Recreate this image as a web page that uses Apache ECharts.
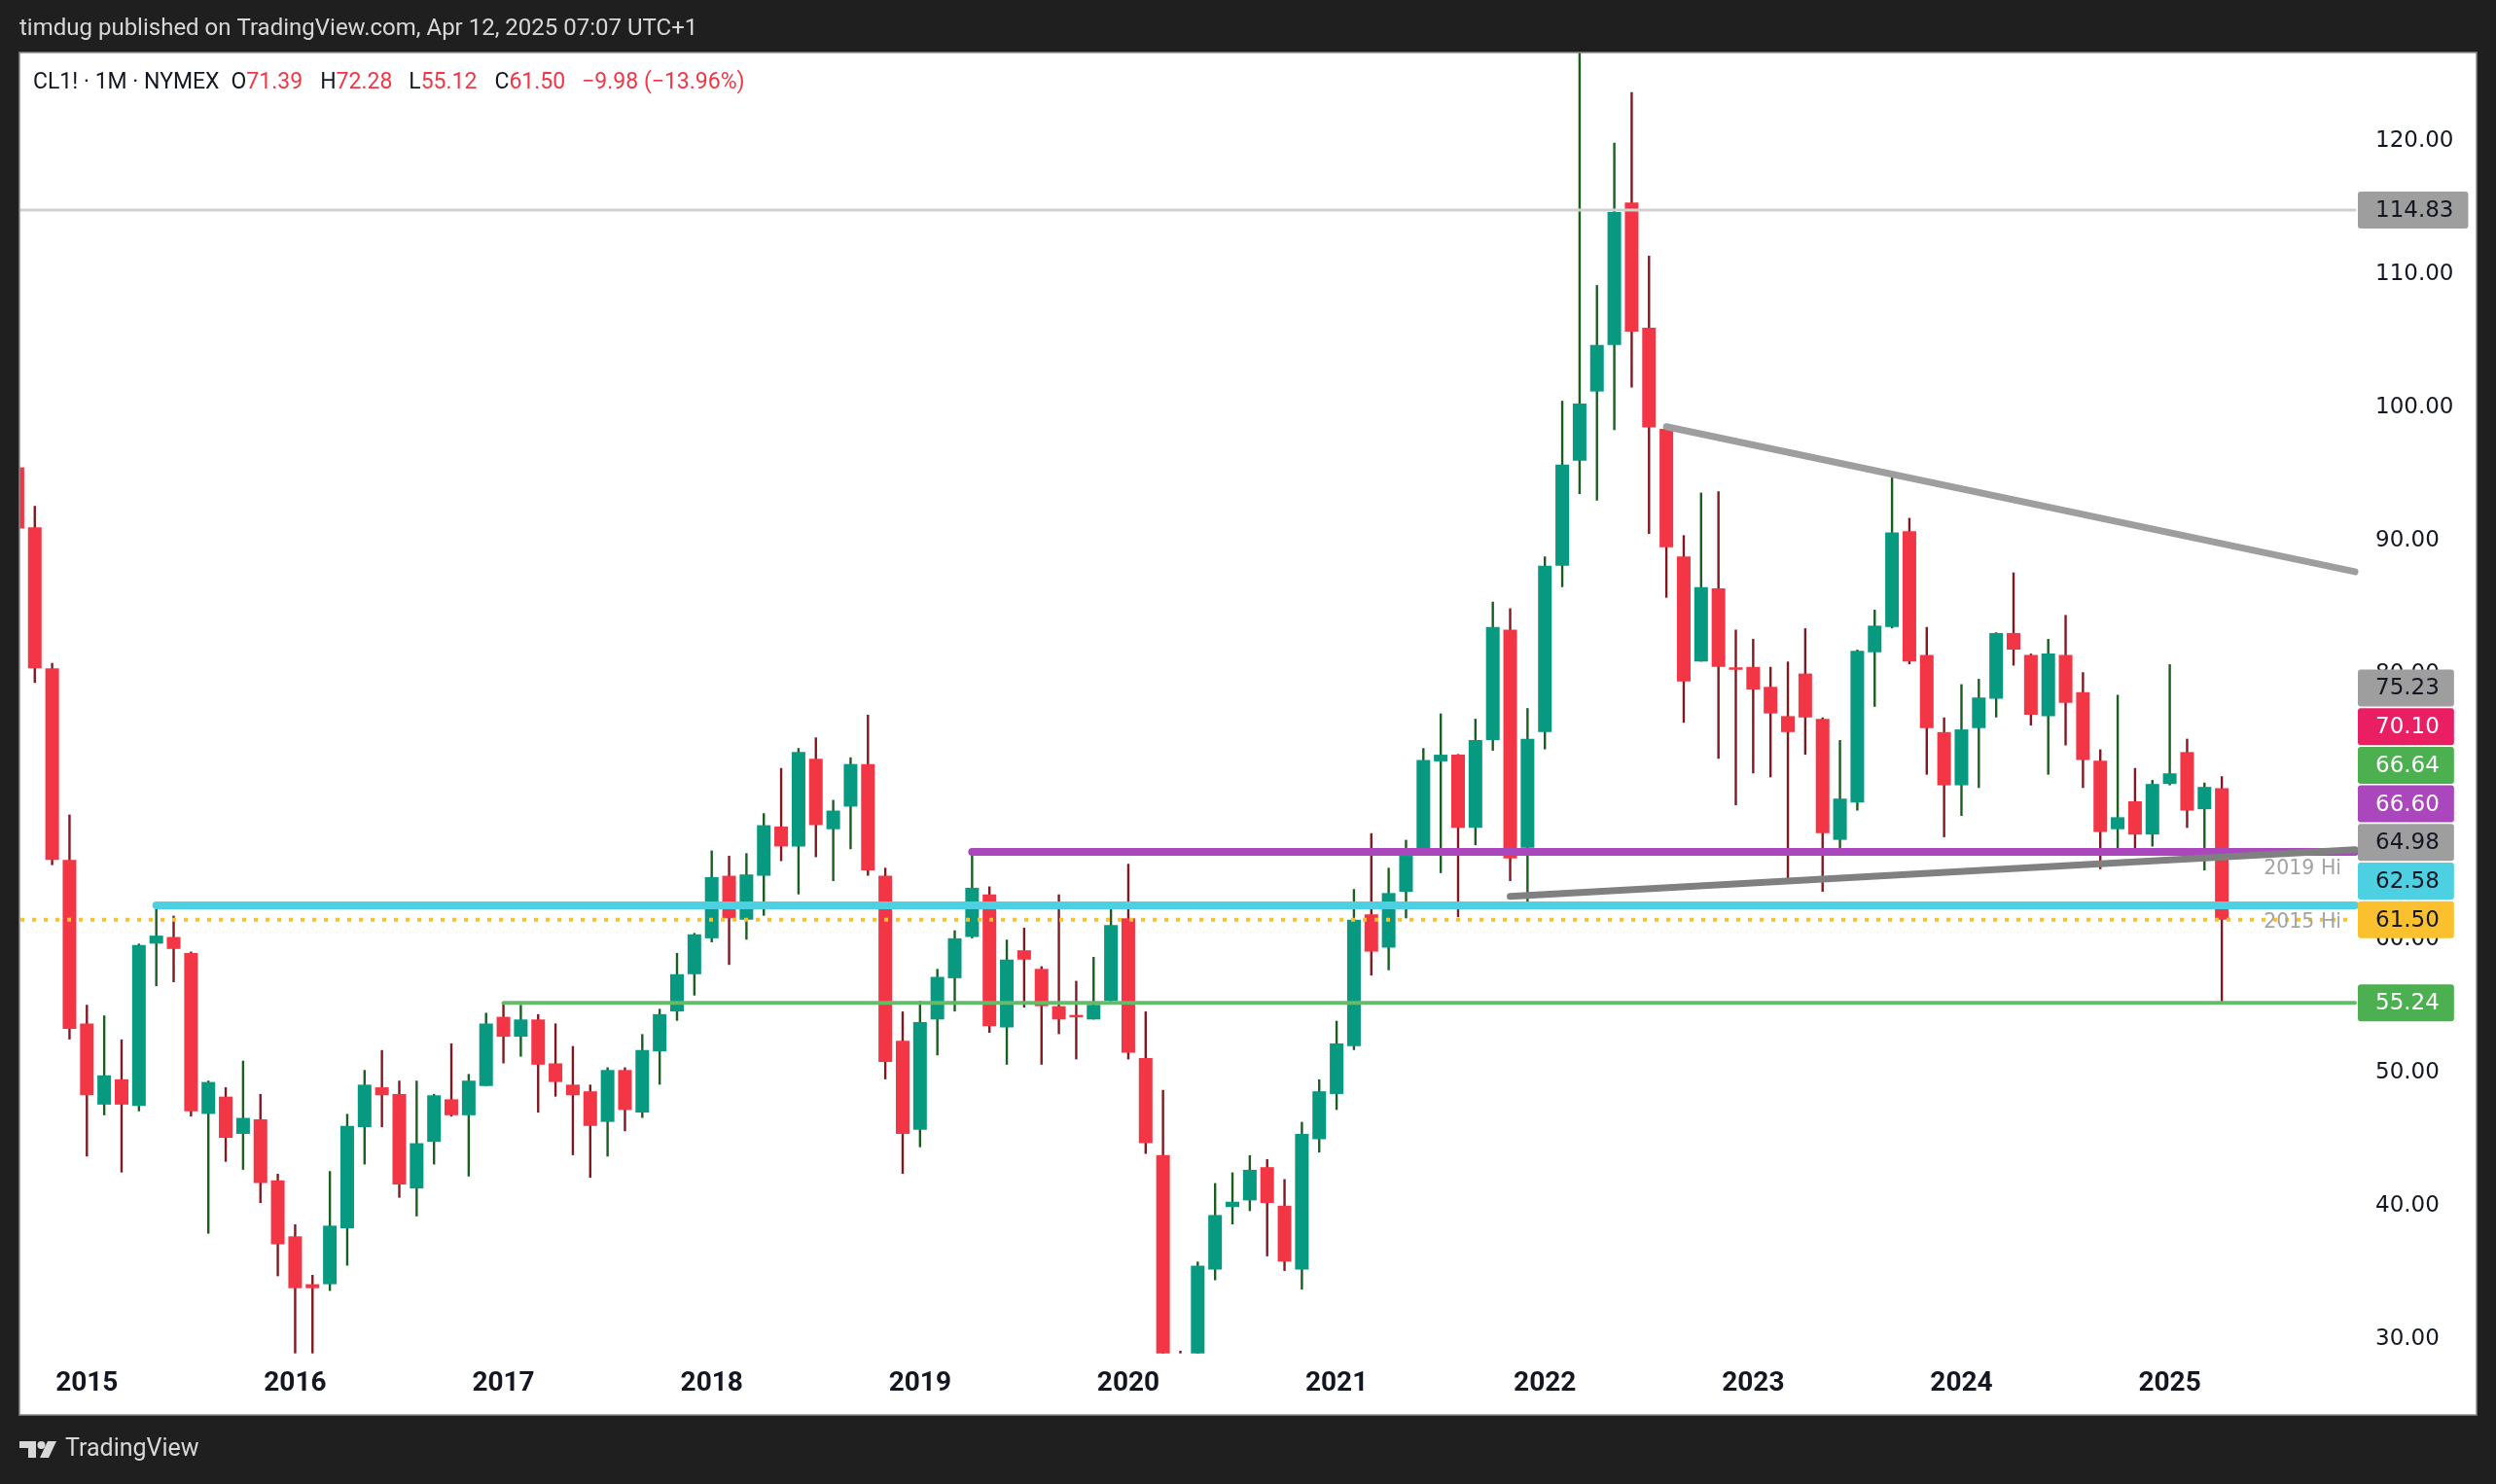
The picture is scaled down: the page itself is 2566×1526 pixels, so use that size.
<!DOCTYPE html>
<html>
<head>
<meta charset="utf-8">
<script src="https://cdn.jsdelivr.net/npm/echarts@6/dist/echarts.min.js"></script>
<style>
html,body{margin:0;padding:0;background:#1f1f1f;}
#c{width:2566px;height:1526px;}
</style>
</head>
<body>
<div id="c"></div>
<script>
// ---------------- DATA ----------------
const months = [
'2014-09','2014-10','2014-11','2014-12',
'2015-01','2015-02','2015-03','2015-04','2015-05','2015-06','2015-07','2015-08','2015-09','2015-10','2015-11','2015-12',
'2016-01','2016-02','2016-03','2016-04','2016-05','2016-06','2016-07','2016-08','2016-09','2016-10','2016-11','2016-12',
'2017-01','2017-02','2017-03','2017-04','2017-05','2017-06','2017-07','2017-08','2017-09','2017-10','2017-11','2017-12',
'2018-01','2018-02','2018-03','2018-04','2018-05','2018-06','2018-07','2018-08','2018-09','2018-10','2018-11','2018-12',
'2019-01','2019-02','2019-03','2019-04','2019-05','2019-06','2019-07','2019-08','2019-09','2019-10','2019-11','2019-12',
'2020-01','2020-02','2020-03','2020-04','2020-05','2020-06','2020-07','2020-08','2020-09','2020-10','2020-11','2020-12',
'2021-01','2021-02','2021-03','2021-04','2021-05','2021-06','2021-07','2021-08','2021-09','2021-10','2021-11','2021-12',
'2022-01','2022-02','2022-03','2022-04','2022-05','2022-06','2022-07','2022-08','2022-09','2022-10','2022-11','2022-12',
'2023-01','2023-02','2023-03','2023-04','2023-05','2023-06','2023-07','2023-08','2023-09','2023-10','2023-11','2023-12',
'2024-01','2024-02','2024-03','2024-04','2024-05','2024-06','2024-07','2024-08','2024-09','2024-10','2024-11','2024-12',
'2025-01','2025-02','2025-03','2025-04'
];
const opens = [
95.5, 91.0, 80.4, 66.0,
53.7, 47.6, 49.5, 47.5, 59.7, 60.2, 59.0, 46.9, 48.2, 45.4, 46.5, 41.9,
37.7, 34.1, 34.1, 38.3, 45.9, 48.9, 48.4, 41.3, 44.8, 48.0, 46.8, 49.0,
54.2, 52.7, 54.0, 50.7, 49.1, 48.6, 46.3, 50.2, 47.0, 51.6, 54.6, 57.4,
60.1, 64.8, 61.5, 64.8, 68.5, 67.0, 73.6, 68.3, 70.0, 73.2, 64.8, 52.4,
45.7, 54.0, 57.1, 60.2, 63.4, 53.4, 59.2, 57.8, 55.0, 54.3, 54.0, 55.4,
61.6, 51.1, 43.8, 20.3, 18.8, 35.2, 39.9, 40.4, 42.9, 40.0, 35.2, 45.0,
48.4, 52.0, 61.9, 59.4, 63.6, 66.6, 73.4, 73.9, 68.4, 75.0, 83.3, 66.9,
75.6, 88.1, 96.0, 101.2, 104.7, 115.4, 106.0, 98.4, 88.8, 80.9, 86.4, 80.45,
80.5, 79.0, 76.8, 80.0, 76.6, 67.5, 70.3, 81.6, 83.5, 90.7, 81.4, 75.6,
71.6, 75.9, 78.1, 83.05, 81.4, 76.8, 81.4, 78.6, 73.45, 68.3, 70.4, 67.9,
71.7, 74.1, 69.8, 71.39
];
const highs = [
95.9, 92.6, 80.8, 69.4,
55.1, 54.3, 52.5, 59.7, 62.58, 61.8, 59.1, 49.4, 48.9, 50.9, 48.4, 42.4,
38.6, 34.8, 42.6, 46.9, 50.2, 51.7, 49.4, 49.4, 48.4, 52.2, 49.9, 54.5,
55.24, 55.1, 54.4, 53.7, 52.0, 49.1, 50.4, 50.4, 52.9, 54.8, 59.0, 60.5,
66.7, 66.3, 66.5, 69.5, 72.9, 74.4, 75.2, 70.5, 73.7, 76.9, 65.4, 54.6,
55.4, 57.8, 60.7, 66.6, 64.0, 60.0, 60.9, 58.0, 63.4, 56.9, 58.7, 62.3,
65.7, 54.6, 48.7, 29.1, 35.8, 41.7, 42.5, 43.8, 43.5, 42.0, 46.3, 49.5,
53.9, 63.8, 68.0, 65.4, 67.5, 74.4, 77.0, 73.95, 76.6, 85.4, 84.9, 77.4,
88.8, 100.5, 130.5, 109.2, 119.9, 123.7, 111.4, 98.7, 90.4, 93.6, 93.7, 83.3,
82.6, 80.5, 80.9, 83.4, 76.7, 75.0, 81.8, 84.8, 94.9, 91.7, 83.5, 76.7,
79.2, 79.6, 83.1, 87.6, 81.5, 82.6, 84.4, 80.1, 74.3, 78.4, 72.9, 72.0,
80.7, 75.1, 71.8, 72.28
];
const lows = [
90.4, 79.3, 65.6, 52.5,
43.7, 46.8, 42.5, 47.1, 56.5, 56.8, 46.7, 37.9, 43.3, 42.7, 40.2, 34.7,
26.2, 26.1, 33.6, 35.5, 43.1, 45.9, 40.6, 39.2, 43.1, 46.7, 42.2, 49.0,
50.7, 51.2, 47.0, 48.2, 43.8, 42.1, 43.7, 45.6, 46.6, 49.1, 53.9, 55.8,
59.8, 58.1, 60.0, 61.8, 65.9, 63.4, 66.2, 64.4, 66.8, 64.8, 49.5, 42.4,
44.4, 51.3, 54.6, 60.1, 53.0, 50.6, 54.9, 50.6, 52.9, 51.0, 54.0, 55.3,
51.0, 43.9, 19.3, -40.3, 17.3, 34.4, 38.6, 39.6, 36.2, 35.1, 33.7, 44.0,
47.2, 51.7, 57.3, 57.7, 61.6, 66.4, 65.0, 61.7, 67.1, 74.2, 64.4, 62.4,
74.3, 86.5, 93.5, 93.0, 98.3, 101.5, 90.5, 85.7, 76.3, 80.9, 73.6, 70.1,
72.5, 72.2, 64.4, 73.9, 63.6, 66.8, 69.7, 77.5, 83.4, 80.7, 72.4, 67.7,
69.3, 71.4, 76.7, 80.6, 76.1, 72.4, 74.6, 71.4, 65.3, 66.4, 66.5, 67.0,
71.6, 68.4, 65.2, 55.12
];
const closes = [
90.9, 80.4, 66.0, 53.3,
48.3, 49.8, 47.6, 59.6, 60.3, 59.3, 47.1, 49.3, 45.1, 46.6, 41.7, 37.1,
33.8, 33.8, 38.5, 46.0, 49.1, 48.3, 41.6, 44.7, 48.3, 46.8, 49.4, 53.7,
52.7, 54.0, 50.6, 49.3, 48.3, 46.0, 50.2, 47.2, 51.7, 54.4, 57.4, 60.4,
64.7, 61.6, 64.9, 68.6, 67.0, 74.1, 68.6, 69.7, 73.2, 65.2, 50.8, 45.4,
53.8, 57.2, 60.1, 63.9, 53.5, 58.5, 58.5, 55.0, 54.0, 54.2, 55.1, 61.1,
51.5, 44.7, 20.5, 18.8, 35.5, 39.3, 40.3, 42.7, 40.2, 35.8, 45.4, 48.6,
52.2, 61.5, 59.1, 63.5, 66.3, 73.5, 73.9, 68.4, 75.0, 83.5, 66.1, 75.1,
88.1, 95.7, 100.3, 104.7, 114.7, 105.7, 98.5, 89.5, 79.4, 86.5, 80.5, 80.3,
78.8, 77.0, 75.6, 76.7, 68.0, 70.6, 81.7, 83.6, 90.6, 80.9, 75.9, 71.6,
75.8, 78.2, 83.05, 81.8, 76.9, 81.5, 77.8, 73.5, 68.1, 69.2, 67.9, 71.7,
72.5, 69.7, 71.48, 61.50
];
const yearTickMonths = ['2015-01','2016-01','2017-01','2018-01','2019-01','2020-01','2021-01','2022-01','2023-01','2024-01','2025-01'];
const priceTicks = [30, 40, 50, 60, 70, 80, 90, 100, 110, 120];

// horizontal levels (null start = from the left edge)
const levelValues = [114.83, 55.24, 62.58, 66.60, 61.50];
const levelStartMonths = [null, '2017-01', '2015-05', '2019-04', null];
// trend lines: two anchor points each, extended to the right edge
const upperTrend = [['2022-08', 98.56], ['2025-04', 89.76]];
const lowerTrend = [['2021-11', 63.25], ['2025-04', 66.2]];
// price tags on the right scale
const tagValues = [114.83, 75.23, 70.10, 66.64, 66.60, 64.98, 62.58, 61.50, 55.24];
// line captions
const hiLabelTexts = ['2019 Hi', '2015 Hi'];
const hiLabelValues = [66.60, 62.58];

// ---------------- STYLE ----------------
const BG = '#1f1f1f';
const UP = '#089981', DN = '#f23645', WICK_UP = '#1b5e20', WICK_DN = '#801922';
const levelColors = ['#d0d0d0', '#66bb6a', '#4dd0e1', '#ab47bc', '#fbc02d'];
const levelWidths = [3, 4, 8, 8, 4];
const levelDashed = [false, false, false, false, true];
const tagBg = ['#9e9e9e','#9e9e9e','#e91e63','#4caf50','#ab47bc','#9e9e9e','#4dd0e1','#fbc02d','#4caf50'];
const tagFg = ['#131722','#131722','#ffffff','#ffffff','#ffffff','#131722','#131722','#131722','#ffffff'];

const X_MIN = -0.5, X_MAX = 134.67, Y_MIN = 28.9, Y_MAX = 126.68;
const GRID = {left: 9, top: 54, width: 2412, height: 1337.7};
const AXIS_FONT = '"DejaVu Sans", Verdana, sans-serif';

const idxOf = m => months.indexOf(m);

function renderCandle(params, api) {
  const i = api.value(0), o = api.value(1), c = api.value(2), l = api.value(3), h = api.value(4);
  const cs = params.coordSys;
  const top = cs.y, bot = cs.y + cs.height;
  const cl = y => Math.min(bot, Math.max(top, y));
  const pO = api.coord([i, o]), pC = api.coord([i, c]), pH = api.coord([i, h]), pL = api.coord([i, l]);
  const x = pO[0];
  const unit = api.size([1, 0])[0];
  const bodyW = unit * 0.785;
  const up = c >= o;
  const children = [];
  const wT = cl(pH[1]), wB = cl(pL[1]);
  if (wB - wT > 0) {
    children.push({type: 'rect', shape: {x: x - 1.2, y: wT, width: 2.4, height: wB - wT},
      style: {fill: up ? WICK_UP : WICK_DN}});
  }
  let bT = Math.min(pO[1], pC[1]), bB = Math.max(pO[1], pC[1]);
  if (!(bB < top || bT > bot)) {
    if (bB - bT < 2.5) { const m = (bT + bB) / 2; bT = m - 1.25; bB = m + 1.25; }
    bT = cl(bT); bB = cl(bB);
    if (bB > bT) children.push({type: 'rect', shape: {x: x - bodyW / 2, y: bT, width: bodyW, height: bB - bT},
      style: {fill: up ? UP : DN}});
  }
  return {type: 'group', children};
}

const series = [];
series.push({
  type: 'custom',
  renderItem: renderCandle,
  data: months.map((m, i) => [i, opens[i], closes[i], lows[i], highs[i]]),
  encode: {x: 0, y: [1, 2, 3, 4]},
  silent: true,
  z: 2
});
levelValues.forEach((v, k) => {
  const s = levelStartMonths[k] === null ? X_MIN : idxOf(levelStartMonths[k]);
  series.push({
    type: 'line', silent: true, symbol: 'none', z: 3 + (levelDashed[k] ? 2 : 0),
    data: [[s, v], [X_MAX, v]],
    lineStyle: {color: levelColors[k], width: levelWidths[k], type: levelDashed[k] ? [4, 8] : 'solid',
      cap: levelDashed[k] ? 'butt' : 'round'}
  });
});
function trendSeries(pts, color) {
  const i0 = idxOf(pts[0][0]), v0 = pts[0][1], i1 = idxOf(pts[1][0]), v1 = pts[1][1];
  const slope = (v1 - v0) / (i1 - i0);
  return {
    type: 'line', silent: true, symbol: 'none', z: 4,
    data: [[i0, v0], [X_MAX, v0 + slope * (X_MAX - i0)]],
    lineStyle: {color, width: 7, cap: 'round'}
  };
}
series.push(trendSeries(upperTrend, '#9e9e9e'));
series.push(trendSeries(lowerTrend, '#808080'));

const chart = echarts.init(document.getElementById('c'), null, {renderer: 'canvas'});
chart.setOption({
  backgroundColor: BG,
  animation: false,
  grid: GRID,
  xAxis: {
    type: 'value', min: X_MIN, max: X_MAX, z: 5,
    axisLine: {show: false}, axisTick: {show: false}, splitLine: {show: false},
    axisLabel: {
      customValues: yearTickMonths.map(idxOf),
      formatter: v => months[Math.round(v)].slice(0, 4),
      color: '#131722', fontFamily: 'Roboto', fontWeight: 'bold', fontSize: 28,
      lineHeight: 30, margin: 16
    }
  },
  yAxis: {
    type: 'value', position: 'right', min: Y_MIN, max: Y_MAX, splitNumber: 10, z: 5,
    axisLine: {show: false}, axisTick: {show: false}, splitLine: {show: false},
    axisLabel: {
      customValues: priceTicks,
      formatter: v => v.toFixed(2),
      color: '#131722', fontFamily: AXIS_FONT, fontSize: 23, margin: 21
    }
  },
  series
});

// ---------------- OVERLAYS ----------------
const py = v => chart.convertToPixel({yAxisIndex: 0}, v);
const plotRight = GRID.left + GRID.width;
const ctx = document.createElement('canvas').getContext('2d');
const measure = (t, f) => { ctx.font = f; return ctx.measureText(t).width; };

const g = [];
// white panel
g.push({type: 'rect', shape: {x: 20, y: 54, width: 2526, height: 1401}, style: {fill: '#ffffff'}, z: -10, silent: true});
// dark left strip covering overflow
g.push({type: 'rect', shape: {x: 0, y: 40, width: 20, height: 1440}, style: {fill: BG}, z: 40, silent: true});
// panel border
g.push({type: 'rect', shape: {x: 20, y: 54, width: 2526, height: 1401}, style: {fill: 'rgba(0,0,0,0)', stroke: '#8a8a8a', lineWidth: 1.5}, z: 41, silent: true});

// header
g.push({type: 'text', x: 20, y: 30, z: 60, silent: true,
  style: {text: 'timdug published on TradingView.com, Apr 12, 2025 07:07 UTC+1', font: '24px Roboto', fill: '#d8d8d8',
    textAlign: 'left', textVerticalAlign: 'middle', align: 'left', verticalAlign: 'middle'}});

// legend
const n = months.length - 1;
const chg = closes[n] - closes[n - 1];
const pct = chg / closes[n - 1] * 100;
const fmtSigned = v => (v < 0 ? '\u2212' : '+') + Math.abs(v).toFixed(2);
const LFONT = '23px Roboto';
const legendSegs = [
  ['CL1! \u00b7 1M \u00b7 NYMEX', '#131722', 0],
  ['O', '#131722', 12], [opens[n].toFixed(2), DN, 0],
  ['H', '#131722', 18], [highs[n].toFixed(2), DN, 0],
  ['L', '#131722', 17], [lows[n].toFixed(2), DN, 0],
  ['C', '#131722', 18], [closes[n].toFixed(2), DN, 0],
  [fmtSigned(chg) + ' (' + fmtSigned(pct) + '%)', DN, 17]
];
let lx = 34;
legendSegs.forEach(([t, col, gap]) => {
  lx += gap;
  g.push({type: 'text', x: lx, y: 85, z: 60, silent: true,
    style: {text: t, font: LFONT, fill: col, textAlign: 'left', textVerticalAlign: 'middle', align: 'left', verticalAlign: 'middle'}});
  lx += measure(t, LFONT);
});

// line captions
hiLabelTexts.forEach((t, k) => {
  g.push({type: 'text', x: plotRight - 14, y: py(hiLabelValues[k]) + 18, z: 45, silent: true,
    style: {text: t, font: '20.5px ' + AXIS_FONT, fill: '#a4a4a4', textAlign: 'right', textVerticalAlign: 'middle', align: 'right', verticalAlign: 'middle'}});
});

// price tags (stacked upward to avoid overlap)
const TAG_H = 38, TAG_GAP = 39.7, TFONT = '23px ' + AXIS_FONT;
const order = tagValues.map((v, k) => k).sort((a, b) => tagValues[a] - tagValues[b]);
let prevY = Infinity;
const tagY = [];
order.forEach(k => {
  let y = py(tagValues[k]);
  if (y > prevY - TAG_GAP) y = prevY - TAG_GAP;
  tagY[k] = y; prevY = y;
});
tagValues.forEach((v, k) => {
  const t = v.toFixed(2);
  const w = measure(t, TFONT) + 18 + 15;
  g.push({type: 'rect', shape: {x: 2424, y: tagY[k] - TAG_H / 2, width: w, height: TAG_H, r: 3},
    style: {fill: tagBg[k]}, z: 50, silent: true});
  g.push({type: 'text', x: 2442, y: tagY[k] + 1, z: 51, silent: true,
    style: {text: t, font: TFONT, fill: tagFg[k], textAlign: 'left', textVerticalAlign: 'middle', align: 'left', verticalAlign: 'middle'}});
});

// footer logo
const LOGO = '#d8d8d8';
g.push({type: 'rect', shape: {x: 20, y: 1482, width: 17, height: 7}, style: {fill: LOGO}, z: 60, silent: true});
g.push({type: 'rect', shape: {x: 29, y: 1482, width: 8, height: 17}, style: {fill: LOGO}, z: 60, silent: true});
g.push({type: 'circle', shape: {cx: 42.5, cy: 1486, r: 4}, style: {fill: LOGO}, z: 60, silent: true});
g.push({type: 'polygon', shape: {points: [[49, 1482], [58, 1482], [50, 1499], [41, 1499]]}, style: {fill: LOGO}, z: 60, silent: true});
g.push({type: 'text', x: 67, y: 1491, z: 60, silent: true,
  style: {text: 'TradingView', font: '25px Roboto', fill: LOGO, textAlign: 'left', textVerticalAlign: 'middle', align: 'left', verticalAlign: 'middle'}});

chart.setOption({graphic: {elements: g}});
</script>
</body>
</html>
